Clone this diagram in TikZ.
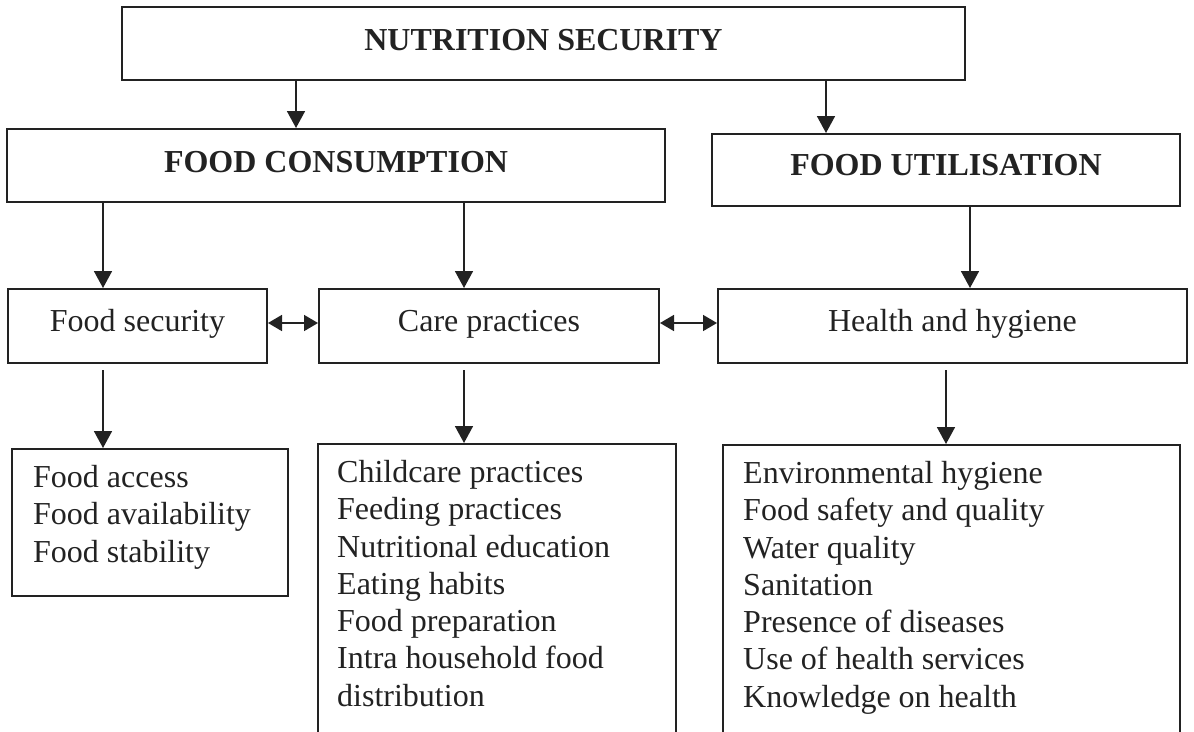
\documentclass[tikz,border=0pt]{standalone}
\usepackage{fontspec}
\setmainfont{Liberation Serif}
\usetikzlibrary{arrows.meta}
\definecolor{ink}{HTML}{222222}
\begin{document}
\begin{tikzpicture}[x=1pt,y=1pt,
  box/.style={draw=ink, line width=2pt, rectangle, inner sep=0pt, text=ink},
  head/.style={box, font=\fontsize{32}{38}\selectfont\bfseries, text height=19.5pt, text depth=6.5pt},
  mid/.style={box, font=\fontsize{32}{38}\selectfont, text height=18pt, text depth=8pt},
  listtext/.style={anchor=north west, inner sep=0pt, align=left, text=ink, font=\fontsize{32}{37.3}\selectfont},
  arr/.style={draw=ink, line width=1.7pt, -{Triangle[length=17pt,width=18pt]}},
  darr/.style={draw=ink, line width=1.7pt, {Triangle[length=14pt,width=16pt]}-{Triangle[length=14pt,width=16pt]}}
]
\useasboundingbox (0,0) rectangle (1194,-731);
\clip (0,0) rectangle (1194,-731);

% top level
\node[head, minimum width=843pt, minimum height=73pt] (ns) at (543.5,-43.5) {NUTRITION SECURITY};
% second level
\node[head, minimum width=658pt, minimum height=73pt] (fc) at (336,-165.5) {FOOD CONSUMPTION};
\node[head, minimum width=468pt, minimum height=72pt, text height=18pt, text depth=8pt] (fu) at (946,-170) {FOOD UTILISATION};
% third level
\node[mid, minimum width=259pt, minimum height=74pt] (fs) at (137.5,-326) {Food security};
\node[mid, minimum width=340pt, minimum height=74pt] (care) at (489,-326) {Care practices};
\node[mid, minimum width=469pt, minimum height=74pt] (hh) at (952.5,-326) {Health and hygiene};
% bottom boxes
\node[box, anchor=north west, minimum width=276pt, minimum height=147pt] (fa) at (11,-448) {};
\node[box, anchor=north west, minimum width=358pt, minimum height=303pt] (cc) at (317,-443) {};
\node[box, anchor=north west, minimum width=457pt, minimum height=303pt] (env) at (722,-444) {};
\node[listtext] (fat) at (33,-465) {Food access\\Food availability\\Food stability};
\node[listtext] (cct) at (337,-460) {Childcare practices\\Feeding practices\\Nutritional education\\Eating habits\\Food preparation\\Intra household food\\distribution};
\node[listtext] (envt) at (743,-461) {Environmental hygiene\\Food safety and quality\\Water quality\\Sanitation\\Presence of diseases\\Use of health services\\Knowledge on health};

% connector columns
\coordinate (c1) at (296,0);
\coordinate (c2) at (826,0);
\coordinate (c3) at (103,0);
\coordinate (c4) at (464,0);
\coordinate (c5) at (970,0);
\coordinate (c6) at (946,0);

\draw[arr] (ns.south -| c1) -- (fc.north -| c1);
\draw[arr] (ns.south -| c2) -- (fu.north -| c2);
\draw[arr] (fc.south -| c3) -- (fs.north -| c3);
\draw[arr] (fc.south -| c4) -- (care.north -| c4);
\draw[arr] (fu.south -| c5) -- (hh.north -| c5);
\draw[arr, shorten <=6pt] (fs.south -| c3) -- (fa.north -| c3);
\draw[arr, shorten <=6pt] (care.south -| c4) -- (cc.north -| c4);
\draw[arr, shorten <=6pt] (hh.south -| c6) -- (env.north -| c6);
\draw[darr] ([yshift=3pt]fs.east) -- ([yshift=3pt]care.west);
\draw[darr] ([yshift=3pt]care.east) -- ([yshift=3pt]hh.west);
\end{tikzpicture}
\end{document}
